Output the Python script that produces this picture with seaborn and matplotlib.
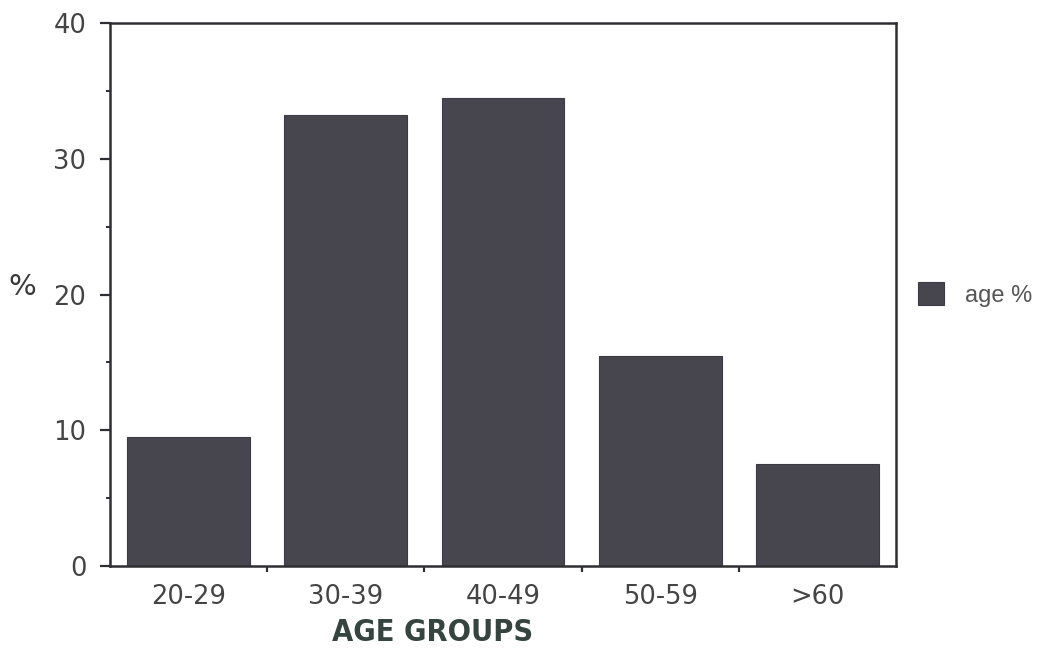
import matplotlib
matplotlib.use("Agg")
import matplotlib.pyplot as plt
from matplotlib.ticker import MultipleLocator, FixedLocator, NullFormatter
import seaborn as sns
import pandas as pd

# Age distribution of respondents (percent per age group)
age_groups = ["20-29", "30-39", "40-49", "50-59", ">60"]
age_pct = [9.5, 33.2, 34.5, 15.5, 7.5]
series_name = "age %"

df = pd.DataFrame({"group": age_groups, "pct": age_pct})

sns.set_theme(style="white")
plt.rcParams["font.family"] = ["DejaVu Sans"]

fig = plt.figure(figsize=(10.47, 6.53), dpi=100)
ax = fig.add_axes([0.105, 0.1332, 0.751, 0.8316])

bar_color = "#47454e"
sns.barplot(data=df, x="group", y="pct", color=bar_color, saturation=1,
            width=0.78, ax=ax, label=series_name, edgecolor="#3c3a42",
            linewidth=0.8)

ax.set_xlim(-0.5, len(age_groups) - 0.5)
ax.set_ylim(0, 40)

# Axis frame
for side in ["left", "right", "top", "bottom"]:
    ax.spines[side].set_visible(True)
    ax.spines[side].set_color("#2f2f33")
    ax.spines[side].set_linewidth(1.8)

# Y ticks: majors every 10 with minors between
ax.yaxis.set_major_locator(MultipleLocator(10))
ax.yaxis.set_minor_locator(MultipleLocator(5))
ax.yaxis.set_minor_formatter(NullFormatter())
ax.tick_params(axis="y", which="major", direction="out", length=7, width=1.6,
               color="#2f2f33", left=True, labelsize=18.5, labelcolor="#444444", pad=10)
ax.tick_params(axis="y", which="minor", direction="out", length=3, width=1.4,
               color="#2f2f33", left=True)

# X ticks: labels at category centres, tick marks at category boundaries
ax.tick_params(axis="x", which="major", length=0, labelsize=18.5,
               labelcolor="#444444", pad=13)
ax.xaxis.set_minor_locator(FixedLocator([i + 0.5 for i in range(len(age_groups) - 1)]))
ax.tick_params(axis="x", which="minor", direction="out", length=4, width=1.6,
               color="#2f2f33", bottom=True)

ax.set_xlabel("")
ax.set_ylabel("")
fig.text(0.021, 0.56, "%", fontsize=21, color="#3a3a3a", ha="center", va="center")
fig.text(0.413, 0.032, "AGE GROUPS", fontsize=22, fontweight="bold",
         fontstretch="condensed", color="#35443f", ha="center", va="center")

leg = ax.legend(loc="center left", bbox_to_anchor=(1.016, 0.5), frameon=False,
                borderaxespad=0, handlelength=1.1, handleheight=1.1,
                handletextpad=0.9,
                prop={"family": "Liberation Sans", "size": 17})
for t in leg.get_texts():
    t.set_color("#555555")

fig.savefig("out.png", dpi=100, facecolor="white")
